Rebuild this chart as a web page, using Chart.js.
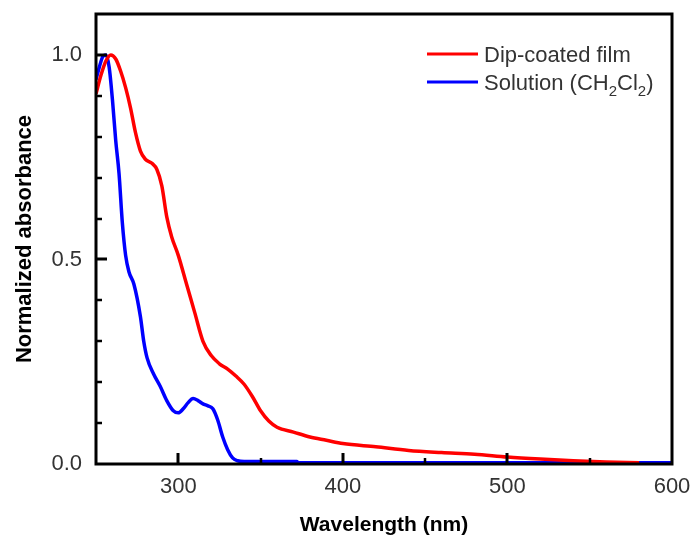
<!DOCTYPE html>
<html>
<head>
<meta charset="utf-8">
<script src="https://cdn.jsdelivr.net/npm/chart.js@4/dist/chart.umd.min.js"></script>
<style>
  html, body { margin: 0; padding: 0; background: #fff; }
  #wrap { width: 694px; height: 540px; }
</style>
</head>
<body>
<div id="wrap"><canvas id="c" width="694" height="540"></canvas></div>
<script>
// ---- data ----
const filmWavelength = [250, 253, 256, 259, 262, 265, 268, 271, 274, 277, 280, 284, 287, 290, 293, 296, 300, 305, 310, 315, 320, 325, 330, 335, 340, 345, 350, 355, 360, 370, 380, 390, 400, 420, 440, 460, 480, 500, 520, 540, 560, 580];
const filmAbs = [0.905, 0.95, 0.985, 1.0, 0.99, 0.96, 0.92, 0.87, 0.81, 0.765, 0.745, 0.735, 0.72, 0.68, 0.604, 0.555, 0.51, 0.44, 0.37, 0.30, 0.265, 0.245, 0.232, 0.215, 0.195, 0.165, 0.13, 0.105, 0.09, 0.078, 0.066, 0.058, 0.05, 0.042, 0.033, 0.028, 0.024, 0.017, 0.012, 0.008, 0.005, 0.003];

const solWavelength = [250, 252, 254, 256, 258, 260, 262, 264, 266, 268, 270, 273, 277, 279, 281, 285, 289, 293, 297, 300, 303, 306, 309, 312, 315, 318, 321, 324, 327, 330, 333, 336, 340, 350, 372, 373, 600];
const solAbs = [0.94, 0.97, 0.995, 1.0, 0.97, 0.89, 0.79, 0.71, 0.59, 0.51, 0.47, 0.44, 0.36, 0.30, 0.26, 0.22, 0.19, 0.155, 0.13, 0.125, 0.135, 0.15, 0.16, 0.155, 0.147, 0.142, 0.135, 0.107, 0.066, 0.035, 0.015, 0.008, 0.006, 0.006, 0.006, 0.003, 0.003];

const seriesNames = ["Dip-coated film", "Solution (CH2Cl2)"];
const xTickValues = [300, 400, 500, 600];
const yTickValues = [0.0, 0.5, 1.0];
const xTitle = "Wavelength (nm)";
const yTitle = "Normalized absorbance";

const toPoints = (xs, ys) => xs.map((x, i) => ({ x: x, y: ys[i] }));

const FONT = "'Liberation Sans', Arial, sans-serif";

function zeroPad(s) { s.paddingTop = 0; s.paddingBottom = 0; s.paddingLeft = 0; s.paddingRight = 0; }

// frame + inward ticks
const framePlugin = {
  id: 'frame',
  afterDatasetsDraw(chart) {
    const { ctx, chartArea: a, scales: { x, y } } = chart;
    ctx.save();
    ctx.strokeStyle = '#000';
    ctx.lineCap = 'butt';
    for (let i = 1; i <= 10; i++) {
      const v = i / 10;
      const py = Math.round(y.getPixelForValue(v));
      const major = (i % 5 === 0);
      ctx.lineWidth = major ? 3 : 2.5;
      ctx.beginPath();
      ctx.moveTo(a.left, py);
      ctx.lineTo(a.left + (major ? 11 : 6), py);
      ctx.stroke();
    }
    for (let v = 300; v < 600; v += 50) {
      const px = Math.round(x.getPixelForValue(v));
      const major = (v % 100 === 0);
      ctx.lineWidth = major ? 3 : 2.5;
      ctx.beginPath();
      ctx.moveTo(px, a.bottom);
      ctx.lineTo(px, a.bottom - (major ? 11 : 6));
      ctx.stroke();
    }
    ctx.lineWidth = 3;
    ctx.strokeRect(a.left, a.top, a.right - a.left, a.bottom - a.top);
    ctx.restore();
  },
  afterDraw(chart) {
    const { ctx } = chart;
    const ds = chart.data.datasets;
    ctx.save();
    const rows = [54, 82];
    ds.forEach((d, i) => {
      const yy = rows[i];
      ctx.strokeStyle = d.borderColor;
      ctx.lineWidth = 3;
      ctx.beginPath();
      ctx.moveTo(427, yy);
      ctx.lineTo(478, yy);
      ctx.stroke();
    });
    ctx.fillStyle = '#333';
    ctx.textBaseline = 'alphabetic';
    ctx.textAlign = 'left';
    const big = "22px " + FONT, small = "15px " + FONT;
    ctx.font = big;
    ctx.fillText(seriesNames[0], 484, rows[0] + 8);
    const parts = [["Solution (CH", 0], ["2", 1], ["Cl", 0], ["2", 1], [")", 0]];
    let xx = 484;
    const base = rows[1] + 8;
    parts.forEach(([t, sub]) => {
      ctx.font = sub ? small : big;
      ctx.fillText(t, xx, sub ? base + 6 : base);
      xx += ctx.measureText(t).width;
    });
    ctx.restore();
  }
};

new Chart(document.getElementById('c'), {
  type: 'line',
  data: {
    datasets: [
      { label: seriesNames[0], data: toPoints(filmWavelength, filmAbs), borderColor: '#ff0000', backgroundColor: '#ff0000', borderWidth: 3.5, pointRadius: 0, cubicInterpolationMode: 'monotone', fill: false },
      { label: seriesNames[1], data: toPoints(solWavelength, solAbs), borderColor: '#0000ff', backgroundColor: '#0000ff', borderWidth: 3.5, pointRadius: 0, cubicInterpolationMode: 'monotone', fill: false }
    ]
  },
  options: {
    responsive: false,
    animation: false,
    devicePixelRatio: 1,
    layout: { padding: { top: 14, right: 22, left: 0, bottom: 0 } },
    plugins: { legend: { display: false }, tooltip: { enabled: false } },
    scales: {
      x: {
        type: 'linear', min: 250, max: 600,
        grid: { display: false, drawTicks: false },
        border: { display: false },
        afterFit(s) { s.height = 76; zeroPad(s); },
        afterBuildTicks(s) { s.ticks = [250, 300, 350, 400, 450, 500, 550, 600].map(v => ({ value: v })); },
        ticks: {
          autoSkip: false, maxRotation: 0, padding: 10, color: '#333',
          font: { family: FONT, size: 22 },
          callback: (v) => xTickValues.includes(v) ? String(v) : ''
        },
        title: { display: true, text: xTitle, color: '#000', font: { family: FONT, size: 21, weight: 'bold' }, padding: { top: 0, bottom: 2 } }
      },
      y: {
        type: 'linear', min: 0, max: 1.1,
        grid: { display: false, drawTicks: false },
        border: { display: false },
        afterFit(s) { s.width = 96; zeroPad(s); },
        afterBuildTicks(s) { s.ticks = yTickValues.map(v => ({ value: v })); },
        ticks: {
          autoSkip: false, padding: 14, color: '#333',
          font: { family: FONT, size: 22 },
          callback: (v) => Number(v).toFixed(1)
        },
        title: { display: true, text: yTitle, color: '#000', font: { family: FONT, size: 22, weight: 'bold' }, padding: { top: 12, bottom: 0 } }
      }
    }
  },
  plugins: [framePlugin]
});
</script>
</body>
</html>
